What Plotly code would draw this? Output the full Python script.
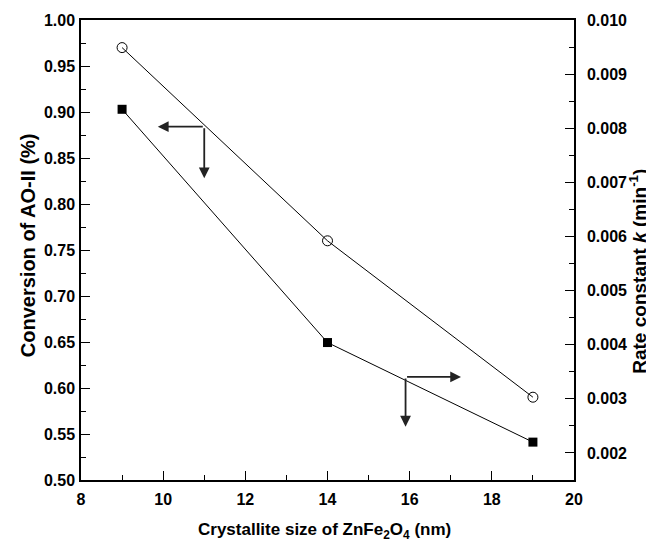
import plotly.graph_objects as go

size_nm = [9, 14, 19]
conversion = [0.97, 0.76, 0.59]
rate_k = [0.00835, 0.00404, 0.00220]

x_ticks = [8, 10, 12, 14, 16, 18, 20]
y_ticks = [0.50, 0.55, 0.60, 0.65, 0.70, 0.75, 0.80, 0.85, 0.90, 0.95, 1.00]
y2_ticks = [0.002, 0.003, 0.004, 0.005, 0.006, 0.007, 0.008, 0.009, 0.010]

FONT = "Liberation Sans, Arial, sans-serif"

fig = go.Figure()
fig.add_trace(go.Scatter(
    x=size_nm, y=conversion, mode="lines+markers",
    line=dict(color="black", width=1),
    marker=dict(symbol="circle-open", size=10, color="black", line=dict(width=1)),
    showlegend=False, cliponaxis=False))
fig.add_trace(go.Scatter(
    x=size_nm, y=rate_k, mode="lines+markers", yaxis="y2",
    line=dict(color="black", width=1),
    marker=dict(symbol="square", size=9, color="black"),
    showlegend=False, cliponaxis=False))

def arrow(x0, y0, x1, y1):
    fig.add_annotation(x=x1, y=y1, ax=x0, ay=y0, xref="x", yref="y",
                       axref="x", ayref="y", showarrow=True, text="",
                       arrowhead=2, arrowsize=1.2, arrowwidth=1.8,
                       arrowcolor="#222")

arrow(11.0, 0.884, 9.87, 0.884)
arrow(11.0, 0.884, 11.0, 0.828)
arrow(15.9, 0.612, 17.25, 0.612)
arrow(15.9, 0.612, 15.9, 0.558)

tickfont = dict(family=FONT, size=16, color="black", weight="bold")

def title_ann(text, x, y, angle, size):
    fig.add_annotation(text=text, x=x, y=y, xref="paper", yref="paper",
                       showarrow=False, textangle=angle,
                       xanchor="center", yanchor="middle",
                       font=dict(family=FONT, size=size, color="black", weight="bold"))

title_ann("Crystallite size of ZnFe<sub>2</sub>O<sub>4</sub> (nm)", 0.493, -0.11, 0, 17)
title_ann("Conversion of AO-II (%)", -0.107, 0.511, -90, 20)
title_ann("Rate constant <i>k</i> (min<sup>-1</sup>)", 1.131, 0.454, -90, 19)

common = dict(ticks="inside", ticklen=9, tickwidth=1.3, tickcolor="black",
              showline=True, linecolor="black", linewidth=1.5,
              showgrid=False, zeroline=False, tickfont=tickfont, automargin=False)

# page body has an 8px margin; plot area sits at page x 81..574, y 20..480
fig.update_layout(
    width=646, height=541,
    margin=dict(l=73, r=80, t=12, b=69),
    paper_bgcolor="white", plot_bgcolor="white",
    font=dict(family=FONT, color="black"),
    xaxis=dict(range=[8, 20], tickvals=x_ticks, mirror=True, ticklabelstandoff=4,
               minor=dict(dtick=1, ticks="inside", ticklen=5, tickcolor="black", tickwidth=1.3),
               **common),
    yaxis=dict(range=[0.5, 1.0], tickvals=y_ticks, tickformat=".2f", ticklabelstandoff=1,
               minor=dict(dtick=0.025, ticks="inside", ticklen=5, tickcolor="black", tickwidth=1.3),
               **common),
    yaxis2=dict(range=[0.0015, 0.010], tickvals=y2_ticks, tickformat=".3f",
                overlaying="y", side="right", ticklabelstandoff=8,
                minor=dict(dtick=0.0005, ticks="inside", ticklen=5, tickcolor="black", tickwidth=1.3),
                **common),
)

fig.write_html("out.html")
